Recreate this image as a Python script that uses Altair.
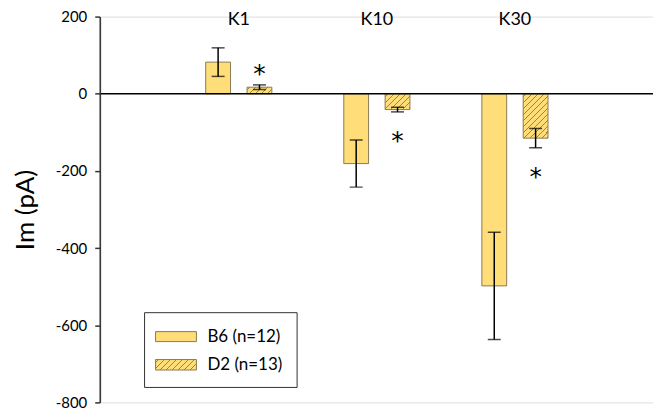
import altair as alt
import pandas as pd

# ---- data ----
groups = ["K1", "K10", "K30"]
strains = ["B6", "D2"]
legend_labels = ["B6 (n=12)", "D2 (n=13)"]
b6_mean = [82, -181, -498]
b6_err = [37, 61, 139]
d2_mean = [17, -41, -115]
d2_err = [6, 6, 25]
d2_sig = [True, True, True]
y_ticks = [-800, -600, -400, -200, 0, 200]

rows = []
for i, g in enumerate(groups):
    rows.append(dict(group=g, strain="B6", mean=b6_mean[i], err=b6_err[i], sig=False))
    rows.append(dict(group=g, strain="D2", mean=d2_mean[i], err=d2_err[i], sig=d2_sig[i]))
df = pd.DataFrame(rows)

# ---- style ----
W, H = 554, 387
Y_MIN, Y_MAX = -800, 200
FILL = "#FFDE7A"
HATCH = "#9A8838"
EDGE = "#8A7A52"
FONT = "Lato"
BAR_W = 25


def hatch_gradient(w, h, period=6.0, line=1.3):
    s = w + h
    den = w * w + h * h
    dx = w * s / den
    dy = h * s / den
    stops = [{"offset": 0, "color": FILL}]
    c = period / 2
    while c - line / 2 < s:
        a = max(0.0, (c - line / 2) / s)
        b = min(1.0, (c + line / 2) / s)
        stops += [{"offset": a, "color": FILL}, {"offset": a, "color": HATCH},
                  {"offset": b, "color": HATCH}, {"offset": b, "color": FILL}]
        c += period
    stops.append({"offset": 1, "color": FILL})
    return {"gradient": "linear", "x1": 0, "y1": 0, "x2": dx, "y2": dy, "stops": stops}


xscale = alt.Scale(domain=groups, paddingInner=0, paddingOuter=0.5)
xaxis = alt.Axis(orient="top", title=None, domain=False, ticks=False, tickSize=0,
                 labelAngle=0, labelFontSize=18, labelFont=FONT, labelColor="black",
                 labelBaseline="middle", labelPadding=-3)
yscale = alt.Scale(domain=[Y_MIN, Y_MAX], nice=False, zero=False)
yaxis = alt.Axis(values=y_ticks, labelExpr="'' + datum.value", title="Im (pA)",
                 titleFontSize=26, titleFont=FONT, titleFontWeight="normal", titleColor="black",
                 titlePadding=17,
                 labelFontSize=15, labelFont=FONT, labelColor="black", labelPadding=8,
                 tickSize=5, tickWidth=1.5, tickColor="#333333", domainColor="#333333",
                 domainWidth=1.5, grid=False, offset=1)
xoff = alt.XOffset("strain:N", scale=alt.Scale(domain=strains, paddingInner=0.4, paddingOuter=0.87))

X = alt.X("group:N", scale=xscale, axis=xaxis)
base = alt.Chart(df)

b6_bars = base.transform_filter("datum.strain == 'B6'").mark_bar(
    fill=FILL, stroke=EDGE, strokeWidth=1).encode(
    x=X, xOffset=xoff, y=alt.Y("mean:Q", scale=yscale, axis=yaxis), y2=alt.datum(0))

d2_layers = []
for i, g in enumerate(groups):
    h_px = abs(d2_mean[i]) * H / (Y_MAX - Y_MIN)
    d2_layers.append(
        base.transform_filter(f"datum.strain == 'D2' && datum.group == '{g}'").mark_bar(
            fill=hatch_gradient(BAR_W, max(h_px, 1)), stroke=EDGE, strokeWidth=1).encode(
            x=X, xOffset=xoff, y=alt.Y("mean:Q", scale=yscale, axis=yaxis), y2=alt.datum(0)))

zero = alt.Chart(pd.DataFrame({"z": [0]})).mark_rule(color="black", strokeWidth=1.5).encode(
    y=alt.Y("z:Q", scale=yscale, axis=yaxis))

err = base.transform_calculate(lo="datum.mean - datum.err", hi="datum.mean + datum.err")
err_rule = err.mark_rule(color="black", strokeWidth=1.5).encode(
    x=X, xOffset=xoff, y=alt.Y("lo:Q", scale=yscale, axis=yaxis), y2="hi:Q")
cap_lo = err.mark_tick(color="black", thickness=1.5, size=13).encode(
    x=X, xOffset=xoff, y=alt.Y("lo:Q", scale=yscale, axis=yaxis))
cap_hi = err.mark_tick(color="black", thickness=1.5, size=13).encode(
    x=X, xOffset=xoff, y=alt.Y("hi:Q", scale=yscale, axis=yaxis))

stars = base.transform_filter("datum.sig").transform_calculate(
    sy="datum.mean >= 0 ? datum.mean + datum.err + 40 : datum.mean - datum.err - 62").mark_text(
    text="*", fontSize=25, font="DejaVu Sans", color="black", baseline="alphabetic", dy=13).encode(
    x=X, xOffset=xoff, y=alt.Y("sy:Q", scale=yscale, axis=yaxis))

one = alt.Chart(pd.DataFrame({"k": [0]}))
leg_box = one.mark_rect(fill="white", stroke="#333333", strokeWidth=1).encode(
    x=alt.value(44), x2=alt.value(197), y=alt.value(297), y2=alt.value(372))
leg_sw1 = one.mark_rect(fill=FILL, stroke=EDGE, strokeWidth=1).encode(
    x=alt.value(55), x2=alt.value(96), y=alt.value(316), y2=alt.value(326))
leg_sw2 = one.mark_rect(fill=hatch_gradient(41, 10.5), stroke=EDGE, strokeWidth=1).encode(
    x=alt.value(55), x2=alt.value(96), y=alt.value(344), y2=alt.value(354.5))
leg_t1 = one.mark_text(text=legend_labels[0], fontSize=17, font=FONT, align="left",
                       baseline="middle", color="black").encode(x=alt.value(107), y=alt.value(321))
leg_t2 = one.mark_text(text=legend_labels[1], fontSize=17, font=FONT, align="left",
                       baseline="middle", color="black").encode(x=alt.value(107), y=alt.value(349))

chart = alt.layer(
    b6_bars, *d2_layers, zero, err_rule, cap_lo, cap_hi, stars,
    leg_box, leg_sw1, leg_sw2, leg_t1, leg_t2
).properties(
    width=W, height=H,
    autosize=alt.AutoSizeParams(type="none"),
    padding={"left": 93, "top": 8, "right": 0, "bottom": 8},
).configure_view(stroke=None).configure(background="white")

chart.save("out.html", embed_options={"renderer": "svg", "actions": False})
